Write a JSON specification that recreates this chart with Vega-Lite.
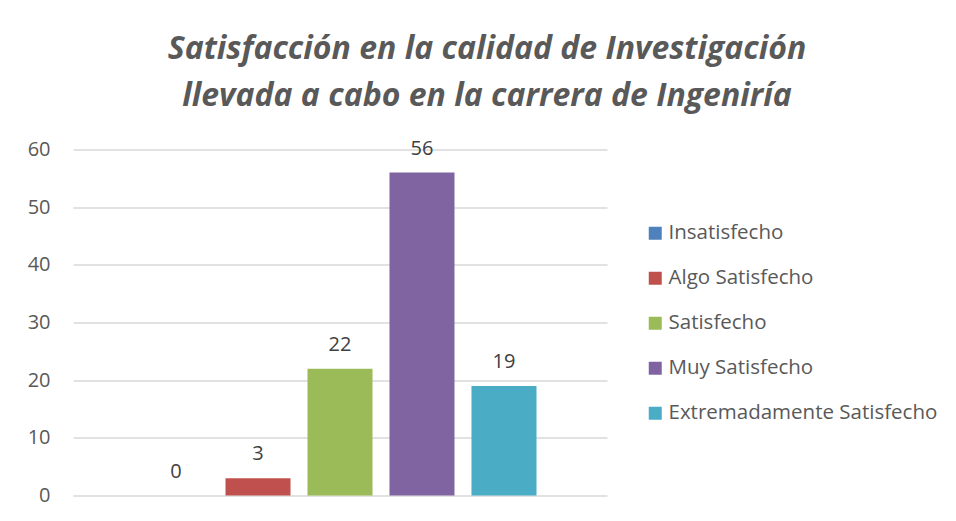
{
  "$schema": "https://vega.github.io/schema/vega-lite/v6.json",
  "width": 534,
  "height": 346,
  "autosize": {"type": "none"},
  "padding": {"left": 73, "top": 149.5, "right": 349, "bottom": 25.5},
  "background": "white",
  "config": {
    "view": {"stroke": null},
    "font": "Open Sans"
  },
  "title": {
    "text": ["Satisfacción en la calidad de Investigación", "llevada a cabo en la carrera de Ingeniría"],
    "font": "Open Sans",
    "fontSize": 32,
    "fontStyle": "italic",
    "fontWeight": "bold",
    "color": "#595959",
    "anchor": "middle",
    "frame": "group",
    "dx": 147,
    "baseline": "alphabetic",
    "lineHeight": 47,
    "offset": 1
  },
  "data": {
    "values": [
      {"cat": "Insatisfecho", "value": 0},
      {"cat": "Algo Satisfecho", "value": 3},
      {"cat": "Satisfecho", "value": 22},
      {"cat": "Muy Satisfecho", "value": 56},
      {"cat": "Extremadamente Satisfecho", "value": 19}
    ]
  },
  "encoding": {
    "x": {
      "field": "cat",
      "type": "nominal",
      "sort": null,
      "scale": {
        "domain": ["Insatisfecho", "Algo Satisfecho", "Satisfecho", "Muy Satisfecho", "Extremadamente Satisfecho"],
        "paddingInner": 0.207,
        "paddingOuter": 0.86
      },
      "axis": null
    },
    "y": {
      "field": "value",
      "type": "quantitative",
      "scale": {"domain": [0, 60], "nice": false},
      "axis": {
        "title": null,
        "values": [0, 10, 20, 30, 40, 50, 60],
        "domain": false,
        "ticks": false,
        "tickSize": 0,
        "labelPadding": 23,
        "labelFont": "Open Sans",
        "labelFontSize": 20,
        "labelColor": "#595959",
        "gridColor": "#D9D9D9",
        "gridWidth": 1.3
      }
    }
  },
  "layer": [
    {
      "mark": {"type": "bar"},
      "encoding": {
        "color": {
          "field": "cat",
          "type": "nominal",
          "sort": null,
          "scale": {
            "domain": ["Insatisfecho", "Algo Satisfecho", "Satisfecho", "Muy Satisfecho", "Extremadamente Satisfecho"],
            "range": ["#4F81BD", "#C0504D", "#9BBB59", "#8064A2", "#4BACC6"]
          },
          "legend": {
            "title": null,
            "orient": "none",
            "legendX": 572,
            "legendY": 73.5,
            "padding": 0,
            "symbolType": "square",
            "symbolSize": 169,
            "symbolStrokeWidth": 0,
            "symbolOpacity": 1,
            "labelFont": "Open Sans",
            "labelFontSize": 20.5,
            "labelColor": "#595959",
            "labelOffset": 3,
            "rowPadding": 24,
            "labelLimit": 400
          }
        }
      }
    },
    {
      "mark": {"type": "text", "baseline": "alphabetic", "dy": -18, "fontSize": 20, "font": "Open Sans", "color": "#404040"},
      "encoding": {
        "text": {"field": "value", "type": "quantitative"}
      }
    }
  ]
}
